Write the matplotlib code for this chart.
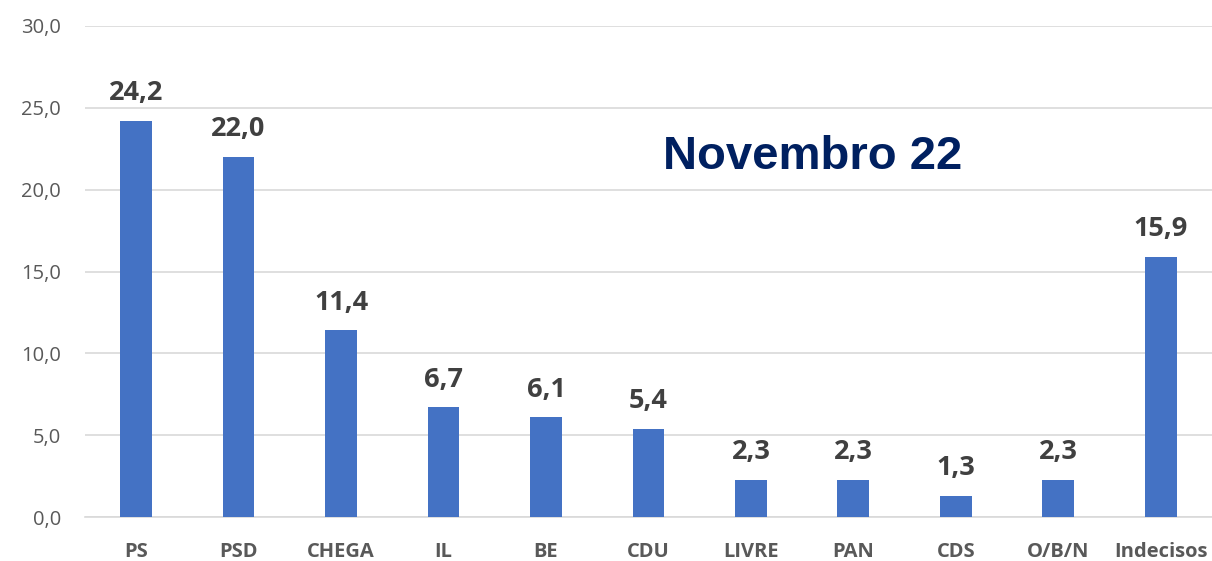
import matplotlib.pyplot as plt
import numpy as np

plt.rcParams["font.family"] = ["Open Sans", "DejaVu Sans"]

partidos = ["PS", "PSD", "CHEGA", "IL", "BE", "CDU", "LIVRE", "PAN", "CDS", "O/B/N", "Indecisos"]
valores = [24.2, 22.0, 11.4, 6.7, 6.1, 5.4, 2.3, 2.3, 1.3, 2.3, 15.9]
yticks = [0, 5, 10, 15, 20, 25, 30]
titulo = "Novembro 22"

fig = plt.figure(figsize=(12.12, 5.61), dpi=100)
ax = fig.add_axes([0.070, 0.078, 0.930, 0.876])

x = np.arange(len(partidos))
ax.bar(x, valores, width=0.31, color="#4472C4", zorder=3)

for xi, v in zip(x, valores):
    ax.text(xi, v + 0.9, f"{v:.1f}".replace(".", ","), ha="center", va="bottom",
            fontsize=19.5, fontweight="bold", color="#404040")

ax.set_xlim(-0.5, len(partidos) - 0.5)
ax.set_ylim(0, 30)
ax.set_yticks(yticks)
ax.set_yticklabels([f"{t:.1f}".replace(".", ",") for t in yticks], fontsize=14.5, color="#595959")
ax.set_xticks(x)
ax.set_xticklabels(partidos, fontsize=14.5, fontweight="bold", color="#595959")
ax.tick_params(axis="both", length=0)
ax.tick_params(axis="x", pad=18)
ax.tick_params(axis="y", pad=17)

ax.grid(axis="y", color="#D9D9D9", linewidth=1.2, zorder=0)
for side in ["top", "right", "left"]:
    ax.spines[side].set_visible(False)
ax.spines["bottom"].set_color("#D9D9D9")
ax.spines["bottom"].set_linewidth(1.2)

ax.text(6.6, 22.0, titulo, ha="center", va="center", fontsize=34,
        fontweight="bold", color="#002060", family="Liberation Sans")

fig.savefig("out.png", dpi=100)
